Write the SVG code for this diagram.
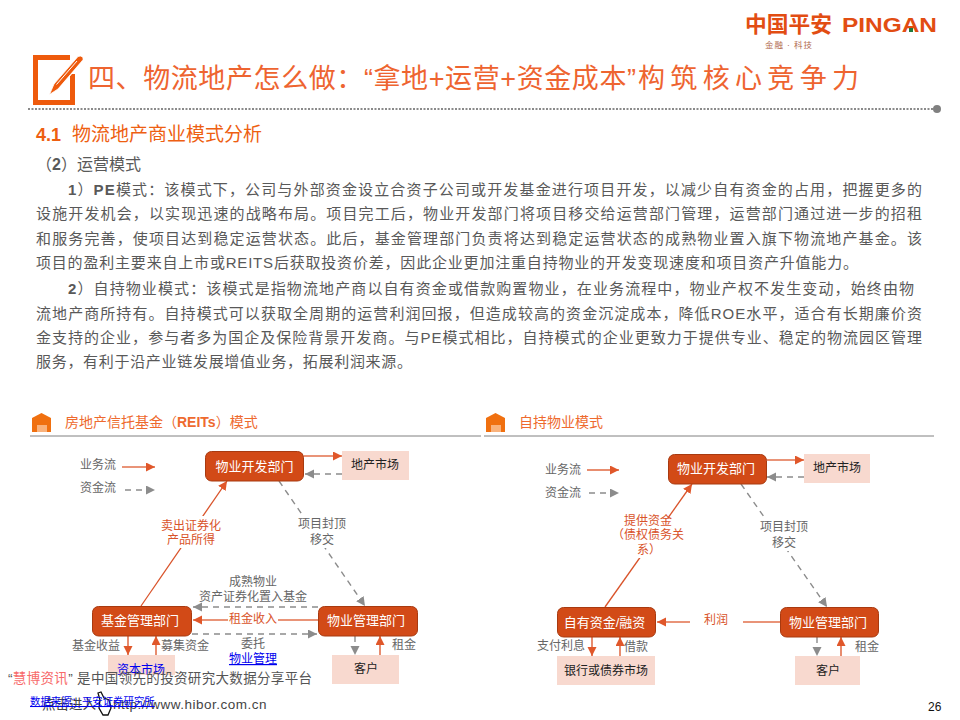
<svg xmlns="http://www.w3.org/2000/svg" width="960" height="720" viewBox="0 0 960 720">
<style>
text{font-family:"Liberation Sans","Noto Sans CJK SC",sans-serif}
.body{font-size:15px;fill:#595959}
.lb{font-size:12px;fill:#666;text-anchor:middle}
.lo{font-size:12px;fill:#d9532a;text-anchor:middle}
.lk{font-size:12px;fill:#0000ee;text-anchor:middle;text-decoration:underline}
.nt{font-size:13px;fill:#fff;text-anchor:middle}
.mt{font-size:12px;fill:#222;text-anchor:middle}
.n{fill:#d24a17;stroke:#a83a10;stroke-width:1}
.m{fill:#f8d9cf}
.s{fill:none;stroke:#e2704b;stroke-width:1.6}
.t{fill:none;stroke:#d9532a;stroke-width:1.3}
.d{fill:none;stroke:#8c8c8c;stroke-width:1.4;stroke-dasharray:6 5}
.hd{font-size:14px;fill:#ee6a2e}
.mask{fill:#fff}
</style>
<defs>
<marker id="ao" markerUnits="userSpaceOnUse" markerWidth="11" markerHeight="10" refX="9" refY="4.500" orient="auto"><path d="M0 0L9 4.500L0 9Z" fill="#e0572a"/></marker>
<marker id="ag" markerUnits="userSpaceOnUse" markerWidth="11" markerHeight="10" refX="9" refY="4.500" orient="auto"><path d="M0 0L9 4.500L0 9Z" fill="#8c8c8c"/></marker>
<path id="house" d="M0 5L9.500 0L19 5V19H0Z" fill="#f07010"/>
</defs>
<rect width="960" height="720" fill="#fff"/>

<g id="logo">
<text x="745" y="32" font-size="21.500" font-weight="700" fill="#e24d12" textLength="87" lengthAdjust="spacingAndGlyphs">中国平安</text>
<text x="842" y="32" font-size="21" font-weight="700" fill="#e24d12" textLength="95" lengthAdjust="spacingAndGlyphs">PINGAN</text>
<rect x="909" y="28" width="4" height="4" fill="#1f7a3d"/>
<text x="765" y="48" font-size="8.500" fill="#b0694c" textLength="47" lengthAdjust="spacing">金融 · 科技</text>
</g>

<g id="title">
<path d="M70 57.500H35.500V102.500H72.500V74" fill="none" stroke="#ee5a0c" stroke-width="5"/>
<path d="M49.500 94.500L54 84L78 56.500Q81 55 83 57.500Q83.500 60 82 61L58 89Z" fill="#ee5a0c" stroke="#fff" stroke-width=".8"/>
<path d="M56.500 84.500L77 61M60 87.500L80.500 63.500" stroke="#fff" stroke-width="1" fill="none"/>
<text x="88" y="88" font-size="27" fill="#ee6430" textLength="548" lengthAdjust="spacing">四、物流地产怎么做：“拿地+运营+资金成本”</text>
<text x="638" y="88" font-size="27" fill="#ee6430" textLength="221" lengthAdjust="spacing">构筑核心竞争力</text>
<line x1="28" y1="109" x2="935" y2="109" stroke="#8a8a8a" stroke-width="2" stroke-dasharray="2 1.500"/>
<circle cx="937" cy="109" r="4" fill="#808080"/>
</g>

<g id="body">
<text x="36" y="141" font-size="18" font-weight="700" fill="#ee5f12">4.1</text>
<text x="72" y="141" font-size="19" fill="#ee5f12" textLength="190">物流地产商业模式分析</text>
<text x="36" y="170" font-size="16" fill="#595959">（<tspan font-weight="700">2</tspan>）运营模式</text>
<text class="body" x="68" y="195" textLength="854"><tspan font-weight="700">1</tspan>）<tspan font-weight="700">PE</tspan>模式：该模式下，公司与外部资金设立合资子公司或开发基金进行项目开发，以减少自有资金的占用，把握更多的</text>
<text class="body" x="36" y="219" textLength="886">设施开发机会，以实现迅速的战略布局。项目完工后，物业开发部门将项目移交给运营部门管理，运营部门通过进一步的招租</text>
<text class="body" x="36" y="244" textLength="886">和服务完善，使项目达到稳定运营状态。此后，基金管理部门负责将达到稳定运营状态的成熟物业置入旗下物流地产基金。该</text>
<text class="body" x="36" y="268" textLength="822">项目的盈利主要来自上市或REITS后获取投资价差，因此企业更加注重自持物业的开发变现速度和项目资产升值能力。</text>
<text class="body" x="68" y="294" textLength="846"><tspan font-weight="700">2</tspan>）自持物业模式：该模式是指物流地产商以自有资金或借款购置物业，在业务流程中，物业产权不发生变动，始终由物</text>
<text class="body" x="36" y="319" textLength="886">流地产商所持有。自持模式可以获取全周期的运营利润回报，但造成较高的资金沉淀成本，降低ROE水平，适合有长期廉价资</text>
<text class="body" x="36" y="343" textLength="886">金支持的企业，参与者多为国企及保险背景开发商。与PE模式相比，自持模式的企业更致力于提供专业、稳定的物流园区管理</text>
<text class="body" x="36" y="367" textLength="376">服务，有利于沿产业链发展增值业务，拓展利润来源。</text>
</g>

<g id="headers">
<use href="#house" x="32" y="413"/>
<path d="M37 425h10v7h-10z" fill="#f9b27c"/>
<text class="hd" x="65" y="427">房地产信托基金（<tspan font-weight="700">REITs</tspan>）模式</text>
<line x1="30" y1="436" x2="481" y2="436" stroke="#808080" stroke-width="1"/>
<use href="#house" x="486" y="413"/>
<path d="M491 425h10v7h-10z" fill="#f9b27c"/>
<text class="hd" x="519" y="427">自持物业模式</text>
<line x1="484" y1="436" x2="934" y2="436" stroke="#808080" stroke-width="1"/>
</g>

<g id="connectors">
<line class="s" x1="122" y1="467" x2="155" y2="467" marker-end="url(#ao)"/>
<line class="d" x1="125" y1="490" x2="155" y2="490" marker-end="url(#ag)"/>
<line class="s" x1="304" y1="456" x2="342" y2="456" marker-end="url(#ao)"/>
<line class="d" x1="342" y1="474" x2="305" y2="474" marker-end="url(#ag)"/>
<line class="t" x1="141" y1="606" x2="227" y2="481" marker-end="url(#ao)"/>
<line class="d" x1="279" y1="481" x2="365" y2="606" marker-end="url(#ag)"/>
<line class="d" x1="318" y1="607" x2="193" y2="607" marker-end="url(#ag)"/>
<line class="s" x1="318" y1="620" x2="193" y2="620" marker-end="url(#ao)"/>
<line class="d" x1="192" y1="634" x2="317" y2="634" marker-end="url(#ag)"/>
<line class="s" x1="128" y1="636" x2="128" y2="655" marker-end="url(#ao)"/>
<line class="s" x1="156" y1="655" x2="156" y2="636" marker-end="url(#ao)"/>
<line class="d" x1="355" y1="636" x2="355" y2="655" marker-end="url(#ag)"/>
<line class="s" x1="380" y1="655" x2="380" y2="636" marker-end="url(#ao)"/>

<line class="s" x1="587" y1="470" x2="619" y2="470" marker-end="url(#ao)"/>
<line class="d" x1="589" y1="493" x2="619" y2="493" marker-end="url(#ag)"/>
<line class="s" x1="767" y1="460" x2="804" y2="460" marker-end="url(#ao)"/>
<line class="d" x1="804" y1="477" x2="767" y2="477" marker-end="url(#ag)"/>
<line class="t" x1="605" y1="607" x2="692" y2="484" marker-end="url(#ao)"/>
<line class="d" x1="741" y1="484" x2="827" y2="607" marker-end="url(#ag)"/>
<line class="s" x1="780" y1="622" x2="657" y2="622" marker-end="url(#ao)"/>
<line class="s" x1="592" y1="637" x2="592" y2="656" marker-end="url(#ao)"/>
<line class="s" x1="620" y1="656" x2="620" y2="637" marker-end="url(#ao)"/>
<line class="d" x1="817" y1="637" x2="817" y2="656" marker-end="url(#ag)"/>
<line class="s" x1="841" y1="656" x2="841" y2="637" marker-end="url(#ao)"/>
</g>

<g id="node-dev-l"><rect class="n" x="205.500" y="451.500" width="98" height="29.500" rx="6"/><text class="nt" x="254.500" y="471">物业开发部门</text></g>
<g id="node-market-l"><rect class="m" x="342" y="451" width="67" height="29"/><text class="mt" x="375" y="469">地产市场</text></g>
<g id="node-fund"><rect class="n" x="92.500" y="606.500" width="99" height="29.500" rx="6"/><text class="nt" x="140" y="625">基金管理部门</text></g>
<g id="node-prop-l"><rect class="n" x="318.500" y="606.500" width="99" height="29.500" rx="6"/><text class="nt" x="366" y="625">物业管理部门</text></g>
<g id="node-capital"><rect class="m" x="108" y="655" width="67" height="20"/><text class="lk" x="141" y="674">资本市场</text></g>
<g id="node-cust-l"><rect class="m" x="332" y="655" width="67" height="29"/><text class="mt" x="366" y="673">客户</text></g>

<g id="node-dev-r"><rect class="n" x="668.500" y="454.500" width="98" height="29.500" rx="6"/><text class="nt" x="716" y="473">物业开发部门</text></g>
<g id="node-market-r"><rect class="m" x="804" y="454" width="66" height="29"/><text class="mt" x="837" y="472">地产市场</text></g>
<g id="node-own"><rect class="n" x="557.500" y="607.500" width="98" height="29.500" rx="6"/><text class="nt" x="604.500" y="627">自有资金/融资</text></g>
<g id="node-prop-r"><rect class="n" x="780.500" y="607.500" width="98" height="29.500" rx="6"/><text class="nt" x="828" y="627">物业管理部门</text></g>
<g id="node-bank"><rect class="m" x="557" y="656" width="98" height="29"/><text class="mt" x="606" y="675">银行或债券市场</text></g>
<g id="node-cust-r"><rect class="m" x="795" y="656" width="65" height="29"/><text class="mt" x="828" y="675">客户</text></g>

<g id="labels">
<text class="lb" x="98" y="469">业务流</text>
<text class="lb" x="98" y="492">资金流</text>
<rect class="mask" x="158" y="516" width="68" height="32"/>
<text class="lo" x="191" y="530">卖出证券化</text>
<text class="lo" x="191" y="544">产品所得</text>
<rect class="mask" x="294" y="516" width="56" height="32"/>
<text class="lb" x="322" y="528">项目封顶</text>
<text class="lb" x="322" y="544">移交</text>
<text class="lb" x="253" y="586">成熟物业</text>
<text class="lb" x="253" y="601">资产证券化置入基金</text>
<rect class="mask" x="228" y="612" width="50" height="16"/>
<text class="lo" x="253" y="623">租金收入</text>
<text class="lb" x="253" y="648">委托</text>
<text class="lk" x="253" y="663">物业管理</text>
<text class="lb" x="96" y="650">基金收益</text>
<text class="lb" x="185" y="650">募集资金</text>
<text class="lb" x="404" y="649">租金</text>

<text class="lb" x="563" y="474">业务流</text>
<text class="lb" x="563" y="497">资金流</text>
<rect class="mask" x="622" y="518" width="62" height="40"/>
<text class="lo" x="648" y="525">提供资金</text>
<text class="lo" x="648" y="539">（债权债务关</text>
<text class="lo" x="649" y="554">系）</text>
<rect class="mask" x="756" y="519" width="56" height="32"/>
<text class="lb" x="784" y="531">项目封顶</text>
<text class="lb" x="784" y="547">移交</text>
<rect class="mask" x="690" y="612" width="53" height="18"/>
<text class="lo" x="716" y="624">利润</text>
<text class="lb" x="561" y="650">支付利息</text>
<text class="lb" x="636" y="651">借款</text>
<text class="lb" x="867" y="651">租金</text>
</g>

<g id="footer">
<rect x="0" y="675" width="330" height="45" fill="#fff"/>
<text x="8" y="683" font-size="13.500" fill="#555" textLength="304" lengthAdjust="spacing">“<tspan fill="#f76a6a">慧博资讯</tspan>” 是中国领先的投资研究大数据分享平台</text>
<text x="42" y="709" font-size="13.500" fill="#444">点击进入</text>
<path d="M98 693L101 692L104 698L109 700L111 708L108 715H103L99 708L100 700Z" fill="none" stroke="#111" stroke-width="1.300"/>
<text x="113" y="709" font-size="13.500" fill="#444" letter-spacing=".5">http://www.hibor.com.cn</text>
<text x="30" y="705" font-size="10.400" fill="#0000ee" text-decoration="underline">数据来源：平安证券研究所</text>
<text x="928" y="711" font-size="12" fill="#111">26</text>
</g>
</svg>
